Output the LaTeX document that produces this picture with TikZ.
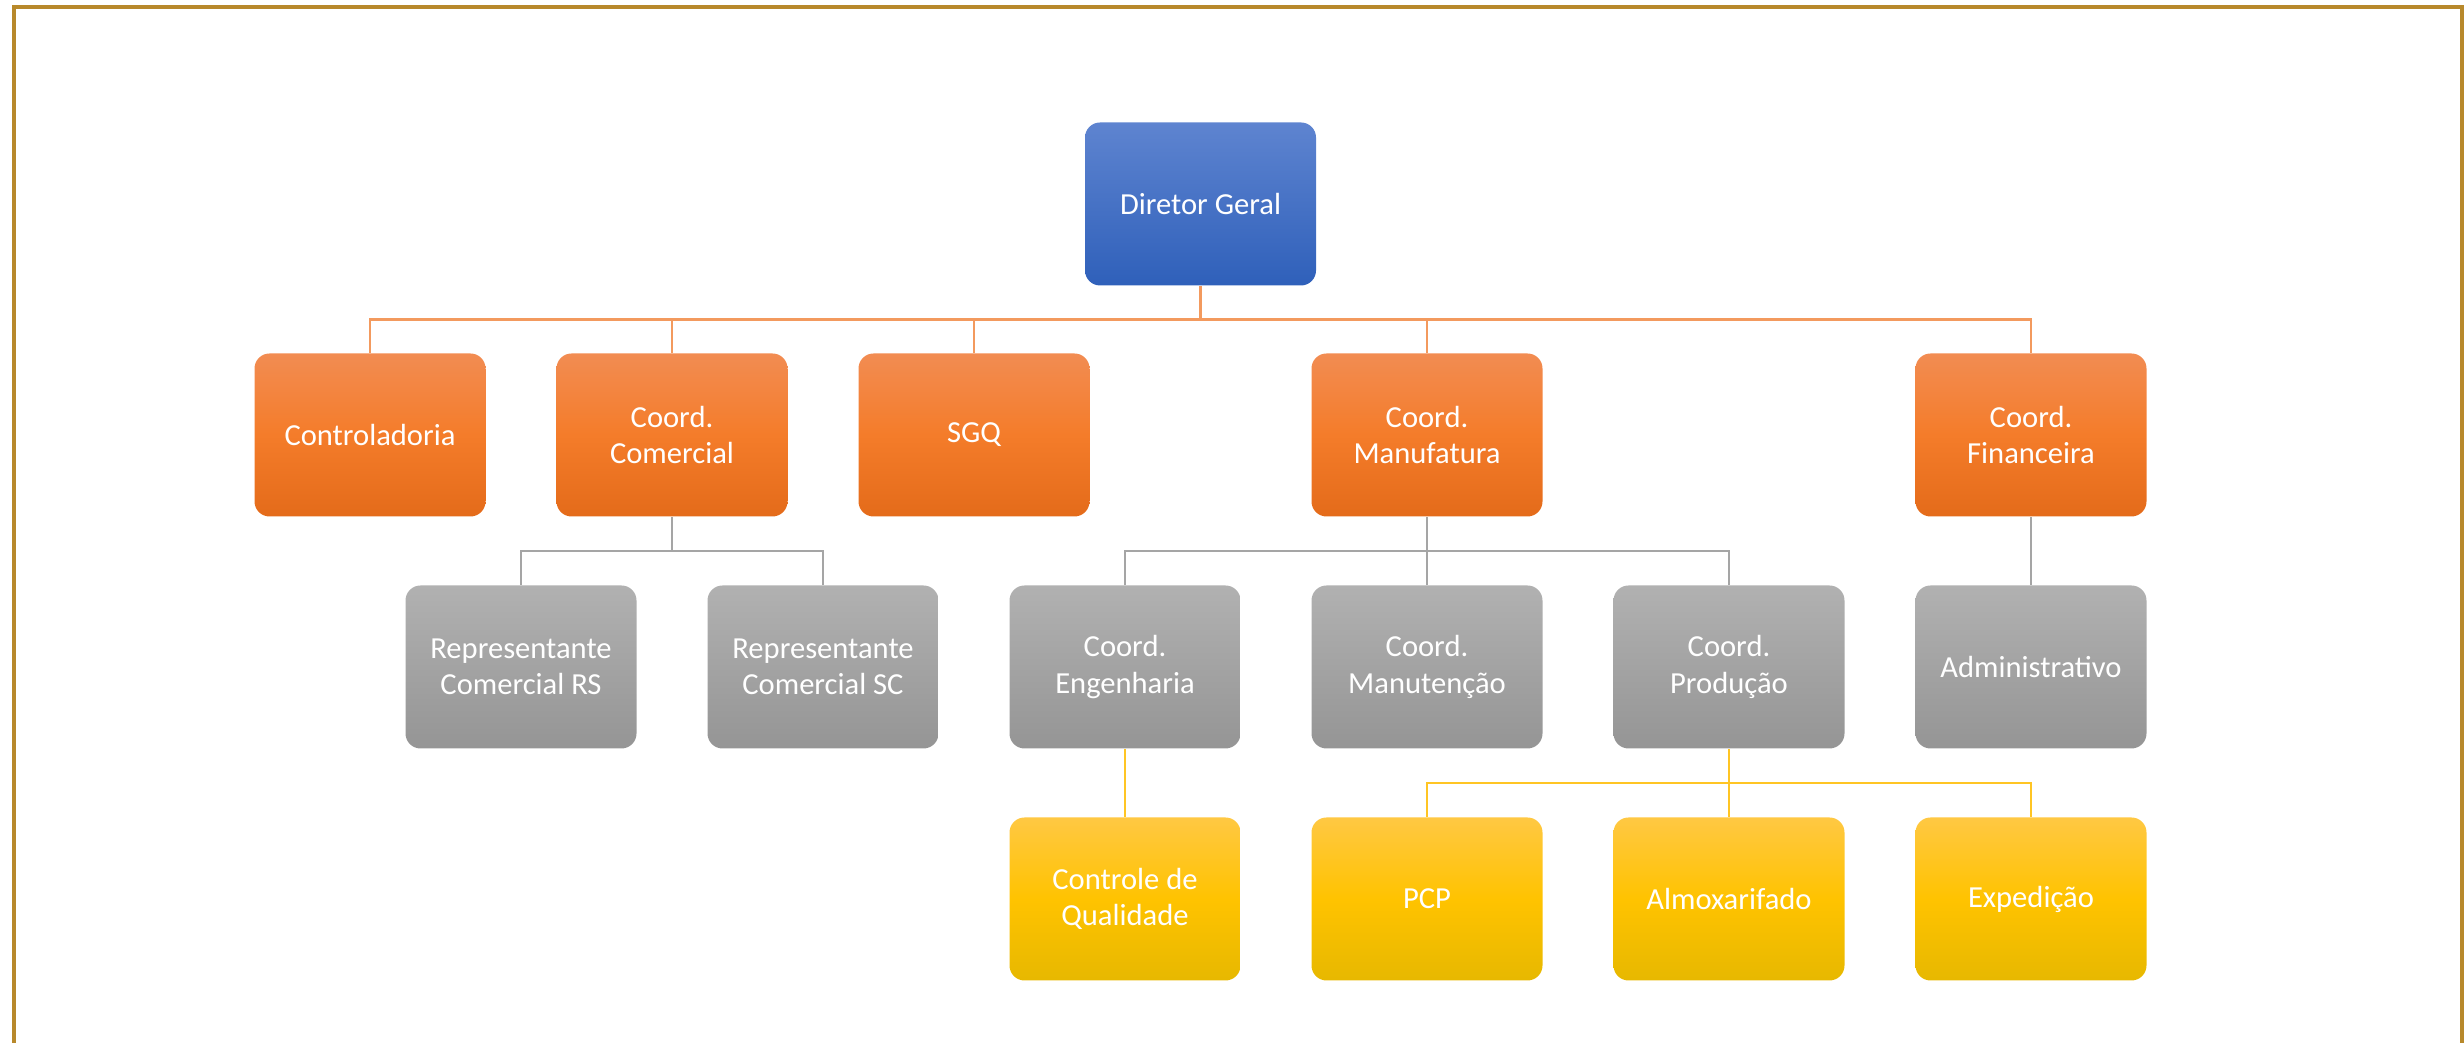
\documentclass[tikz,border=0pt]{standalone}
\usepackage{fontspec}
\setmainfont{Carlito}
\usetikzlibrary{calc,positioning,shadings}
\definecolor{frame}{HTML}{B8892B}
\definecolor{blutop}{HTML}{5E84D0}
\definecolor{blubot}{HTML}{2F60BA}
\definecolor{ortop}{HTML}{F28C52}
\definecolor{ormid}{HTML}{F47C2A}
\definecolor{orbot}{HTML}{E46B1A}
\definecolor{grtop}{HTML}{B1B1B1}
\definecolor{grbot}{HTML}{959595}
\definecolor{yetop}{HTML}{FFC843}
\definecolor{yemid}{HTML}{FFC300}
\definecolor{yebot}{HTML}{E7B800}
\definecolor{lnkor}{HTML}{F39A5E}
\definecolor{lnkgr}{HTML}{A5A5A5}
\definecolor{lnkye}{HTML}{FFC524}

\begin{document}
\begin{tikzpicture}[box/.style={rounded corners=0.15cm, minimum width=2.31cm,
          minimum height=1.63cm, inner sep=0pt, align=center, text=white,
          font=\fontsize{8.7}{10.4}\selectfont},
        box_blu/.style={box, top color=blutop, bottom color=blubot},
        box_or/.style={box, top color=ortop, bottom color=orbot, middle color=ormid},
        box_gr/.style={box, top color=grtop, bottom color=grbot},
        box_ye/.style={box, top color=yetop, bottom color=yebot, middle color=yemid},
        lnk_or/.style={draw=lnkor, line width=0.7pt},
        lnk_gr/.style={draw=lnkgr, line width=0.7pt},
        lnk_ye/.style={draw=lnkye, line width=0.7pt}]

        \useasboundingbox (0,0) rectangle (24.64,10.43);
        \draw[line width=0.04cm, color=frame] (0.14,-0.5) rectangle (24.615,10.36);

        %% top
        \node [box_blu] (dir_geral) at (12.005,8.39) {Diretor Geral};

        %% first line
        \node [box_or] (ctrl) at($(dir_geral)+(-8.305,-2.31)$) {Controladoria};
        \node [box_or] (com) at($(dir_geral)+(-5.285,-2.31)$) {Coord.\\Comercial};
        \node [box_or] (sgq) at($(dir_geral)+(-2.265,-2.31)$) {SGQ};
        \node [box_or] (manuf) at($(dir_geral)+(2.265,-2.31)$) {Coord.\\Manufatura};
        \node [box_or] (fin) at($(dir_geral)+(8.305,-2.31)$) {Coord.\\Financeira};

        %% second line
        \node [box_gr] (rep_rs) at($(com)+(-1.51,-2.32)$) {Representante\\Comercial RS};
        \node [box_gr] (rep_sc) at($(com)+(1.51,-2.32)$) {Representante\\Comercial SC};
        \node [box_gr] (eng) at($(manuf)+(-3.02,-2.32)$) {Coord.\\Engenharia};
        \node [box_gr] (manut) at($(manuf)+(0,-2.32)$) {Coord.\\Manutenção};
        \node [box_gr] (prod) at($(manuf)+(3.02,-2.32)$) {Coord.\\Produção};
        \node [box_gr] (adm) at($(fin)+(0,-2.32)$) {Administrativo};

        %% third line
        \node [box_ye] (cq) at($(eng)+(0,-2.32)$) {Controle de\\Qualidade};
        \node [box_ye] (pcp) at($(manut)+(0,-2.32)$) {PCP};
        \node [box_ye] (almox) at($(prod)+(0,-2.32)$) {Almoxarifado};
        \node [box_ye] (exped) at($(adm)+(0,-2.32)$) {Expedição};

        %% links
        \foreach \c in {ctrl,com,sgq,manuf,fin} {
          \draw[lnk_or] (dir_geral.south) |- ($(dir_geral.south)!.5!(\c.north)$) -| (\c.north);
        }
        \foreach \c in {rep_rs,rep_sc} {
          \draw[lnk_gr] (com.south) |- ($(com.south)!.5!(\c.north)$) -| (\c.north);
        }
        \foreach \c in {eng,manut,prod} {
          \draw[lnk_gr] (manuf.south) |- ($(manuf.south)!.5!(\c.north)$) -| (\c.north);
        }
        \draw[lnk_gr] (fin.south) -- (adm.north);
        \draw[lnk_ye] (eng.south) -- (cq.north);
        \foreach \c in {pcp,almox,exped} {
          \draw[lnk_ye] (prod.south) |- ($(prod.south)!.5!(\c.north)$) -| (\c.north);
        }

      \end{tikzpicture}
\end{document}
